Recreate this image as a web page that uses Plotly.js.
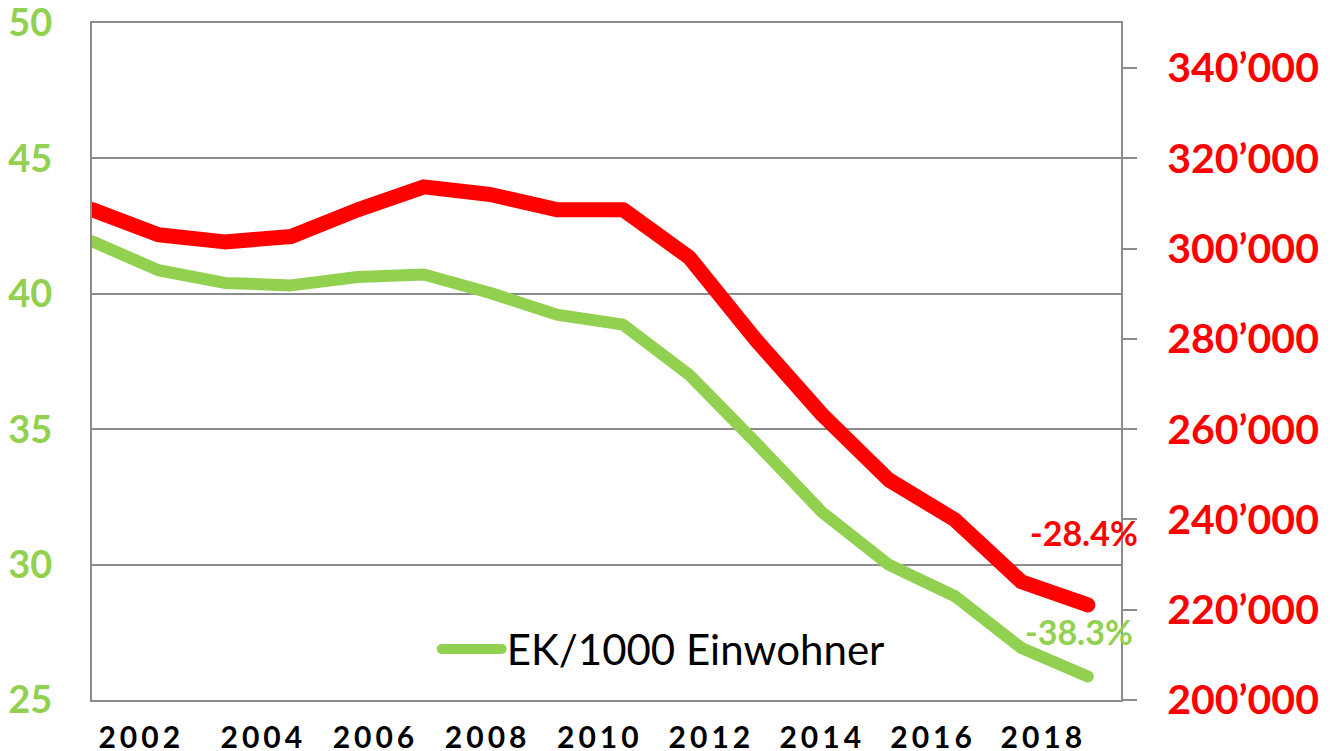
<!DOCTYPE html>
<html>
<head>
<meta charset="utf-8">
<script src="https://cdn.plot.ly/plotly-3.0.1.min.js"></script>
<style>
html, body { margin: 0; padding: 0; background: #fff; }
#chart { width: 1333px; height: 751px; }
.scatterlayer path.js-line, .legend path.js-line { stroke-linecap: round !important; stroke-linejoin: round !important; }
.xtick text { letter-spacing: 4px; }
</style>
</head>
<body>
<div id="chart"></div>
<script>
// Data
const pointIndex = [0, 1, 2, 3, 4, 5, 6, 7, 8, 9, 10, 11, 12, 13, 14, 15];
const ekPer1000 = [41.94, 40.87, 40.40, 40.31, 40.62, 40.71, 40.03, 39.23, 38.86, 37.0, 34.5, 31.93, 30.0, 28.83, 26.92, 25.87];
const ekTotal = [308650, 303100, 301500, 302700, 308600, 313700, 312000, 308650, 308650, 298000, 279800, 263200, 248800, 239900, 226200, 221060];
const yearLabels = ['2002', '2004', '2006', '2008', '2010', '2012', '2014', '2016', '2018'];
const leftTicks = [25, 30, 35, 40, 45, 50];
const rightTicks = [200000, 220000, 240000, 260000, 280000, 300000, 320000, 340000];
const seriesName = 'EK/1000 Einwohner';
const redLabel = '-28.4%';
const greenLabel = '-38.3%';

const GREEN = '#92D050';
const RED = '#FF0000';
const GRID = '#8c8c8c';
const FONT = 'Lato, "Open Sans", sans-serif';

// layout: positions of the year labels along the index axis
const yearTickPos = [0.742, 2.58, 4.27, 5.96, 7.65, 9.33, 11.0, 12.67, 14.33];

const traces = [
  {
    x: pointIndex, y: ekTotal, yaxis: 'y2', type: 'scatter', mode: 'lines',
    line: { color: RED, width: 15 }, showlegend: false, hoverinfo: 'skip'
  },
  {
    x: pointIndex, y: ekPer1000, yaxis: 'y', type: 'scatter', mode: 'lines',
    name: seriesName,
    line: { color: GREEN, width: 12 }, showlegend: true, hoverinfo: 'skip'
  }
];

const layout = {
  width: 1333, height: 751,
  margin: { l: 92, r: 212, t: 23, b: 51, pad: 0 },
  paper_bgcolor: '#fff', plot_bgcolor: '#fff',
  separators: '.\u2019',
  font: { family: FONT },
  xaxis: {
    range: [0, 15.5], showgrid: false, zeroline: false,
    showline: true, linecolor: GRID, linewidth: 2, mirror: true,
    tickmode: 'array', tickvals: yearTickPos, ticktext: yearLabels,
    ticks: '', ticklabelstandoff: 10, ticklabeloverflow: 'allow',
    tickfont: { family: FONT, size: 30, color: '#000', weight: 'bold' }
  },
  yaxis: {
    range: [25, 50], tickmode: 'array', tickvals: leftTicks,
    showgrid: true, gridcolor: GRID, gridwidth: 2, zeroline: false,
    showline: true, linecolor: GRID, linewidth: 2,
    ticks: '', ticklabelstandoff: 30, ticklabeloverflow: 'allow',
    tickfont: { family: FONT, size: 38, color: GREEN, weight: 'bold' }
  },
  yaxis2: {
    overlaying: 'y', side: 'right', range: [200000, 350000],
    tickmode: 'array', tickvals: rightTicks, tickformat: ',d',
    showgrid: false, zeroline: false,
    showline: true, linecolor: GRID, linewidth: 2,
    ticks: 'outside', ticklen: 14, tickwidth: 2, tickcolor: GRID,
    ticklabelstandoff: 22, ticklabeloverflow: 'allow',
    tickfont: { family: FONT, size: 41, color: RED, weight: 'bold' }
  },
  showlegend: true,
  legend: {
    x: 0.335, y: 0.075, xanchor: 'left', yanchor: 'middle',
    bgcolor: 'rgba(0,0,0,0)', borderwidth: 0, itemwidth: 60,
    font: { family: FONT, size: 42, color: '#000' }
  },
  annotations: [
    {
      x: pointIndex[pointIndex.length - 1], y: ekTotal[ekTotal.length - 1], xref: 'x', yref: 'y2',
      text: redLabel, showarrow: false, xshift: -4, yshift: 72,
      font: { family: FONT, size: 34, color: RED, weight: 'bold' }
    },
    {
      x: pointIndex[pointIndex.length - 1], y: ekPer1000[ekPer1000.length - 1], xref: 'x', yref: 'y',
      text: greenLabel, showarrow: false, xshift: -9, yshift: 45,
      font: { family: FONT, size: 34, color: GREEN, weight: 'bold' }
    }
  ]
};

Plotly.newPlot('chart', traces, layout, { displayModeBar: false, staticPlot: true });
</script>
</body>
</html>
